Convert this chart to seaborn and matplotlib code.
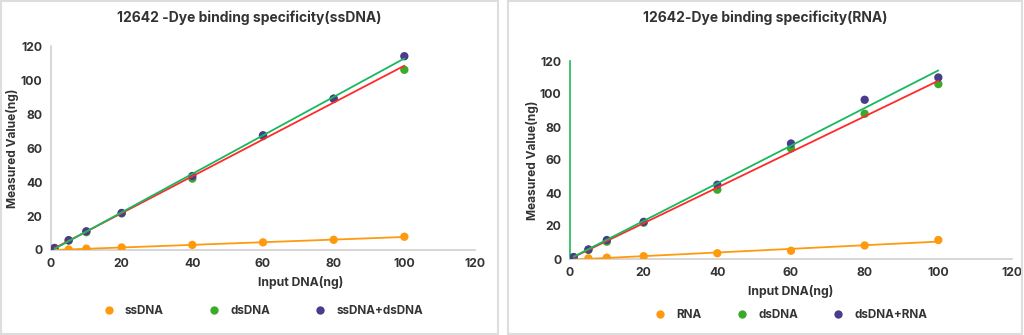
import matplotlib
matplotlib.use("Agg")
import matplotlib.pyplot as plt
import seaborn as sns
import pandas as pd
import numpy as np
from matplotlib.patches import Rectangle

sns.set_theme(style="white")
plt.rcParams['font.family'] = ['Inter', 'DejaVu Sans']

input_ng = [1, 5, 10, 20, 40, 60, 80, 100]

# Left panel
left_title = "12642 -Dye binding specificity(ssDNA)"
left_names = ["ssDNA", "dsDNA", "ssDNA+dsDNA"]
left_ss = [0.0, 0.3, 0.8, 1.5, 3.0, 4.5, 6.0, 7.8]
left_ds = [1.0, 5.5, 10.5, 21.5, 42.0, 67.0, 89.0, 106.0]
left_mix = [1.2, 5.8, 11.0, 21.8, 43.5, 67.5, 89.0, 114.0]

# Right panel
right_title = "12642-Dye binding specificity(RNA)"
right_names = ["RNA", "dsDNA", "dsDNA+RNA"]
right_rna = [0.0, 0.4, 0.8, 1.7, 3.5, 5.0, 8.2, 11.5]
right_ds = [1.0, 5.5, 10.5, 22.0, 42.0, 67.0, 88.0, 106.0]
right_mix = [1.2, 5.8, 11.5, 22.5, 45.0, 70.0, 96.5, 110.0]

x_ticks = [0, 20, 40, 60, 80, 100, 120]
y_ticks = [0, 20, 40, 60, 80, 100, 120]

pt_colors = ["#FF9A0E", "#3BAA2B", "#4A3C8C"]
line_colors = ["#FF9A0E", "#FF2A2A", "#18B860"]
txt = "#333333"

fig = plt.figure(figsize=(10.24, 3.35), dpi=100)
W, H = 1024, 335

# panel borders
for (x0, x1) in [(1, 498), (508, 1022)]:
    fig.patches.append(Rectangle((x0 / W, 1 / H), (x1 - x0) / W, (H - 2) / H,
                                 transform=fig.transFigure, fill=False,
                                 edgecolor="#DDDDDD", linewidth=1.5))


def panel(rect, names, series, left_spine_color, legend_y, xlab_x, xlab_y, ylab_x, colspace):
    ax = fig.add_axes(rect)
    df = pd.DataFrame({
        "x": input_ng * 3,
        "y": series[0] + series[1] + series[2],
        "s": [names[0]] * 8 + [names[1]] * 8 + [names[2]] * 8,
    })
    sns.scatterplot(data=df, x="x", y="y", hue="s", hue_order=names,
                    palette=pt_colors, s=36, edgecolor="none", ax=ax, zorder=3)
    for i in range(3):
        sub = df[df["s"] == names[i]]
        sns.regplot(data=sub, x="x", y="y", scatter=False, ci=None, truncate=True,
                    line_kws={"color": line_colors[i], "lw": 1.3, "zorder": 4}, ax=ax)
    ax.set_xlim(0, 120)
    ax.set_ylim(0, 120)
    ax.set_xticks(x_ticks)
    ax.set_yticks(y_ticks)
    ax.tick_params(axis="both", labelsize=8.8, colors=txt, length=0, pad=6)
    ax.tick_params(axis="y", length=3, color="#CCCCCC", width=1, pad=3)
    for lab in ax.get_xticklabels() + ax.get_yticklabels():
        lab.set_fontweight("bold")
    ax.set_xlabel("Input DNA(ng)", fontsize=8.8, fontweight="bold", color=txt)
    ax.set_ylabel("Measured Value(ng)", fontsize=8.6, fontweight="bold", color=txt)
    ax.xaxis.set_label_coords(xlab_x, xlab_y)
    ax.yaxis.set_label_coords(ylab_x, 0.5)
    for s in ["top", "right"]:
        ax.spines[s].set_visible(False)
    ax.spines["bottom"].set_color("#D0D0D0")
    ax.spines["bottom"].set_linewidth(1.2)
    ax.spines["left"].set_color(left_spine_color)
    ax.spines["left"].set_linewidth(1.2)
    ax.set_facecolor("white")
    leg = ax.legend(loc="center", bbox_to_anchor=(0.5, legend_y), ncol=3, frameon=False,
                    fontsize=8.4, columnspacing=colspace, handlelength=1.0,
                    handletextpad=0.89, markerscale=1.0)
    for t in leg.get_texts():
        t.set_fontweight("bold")
        t.set_color(txt)
    return ax


# left axes: x 51..475 px, y 46..250 px
axL = panel([51 / W, 1 - 250 / H, 424 / W, 204 / H], left_names,
            [left_ss, left_ds, left_mix], "#D0D0D0", -0.30,
            (301 - 51) / 424, -(276 - 250) / 204, (19 - 51) / 424, 3.8)
# right axes: x 570..1012 px, y 61..259 px
axR = panel([570 / W, 1 - 259 / H, 442 / W, 198 / H], right_names,
            [right_rna, right_ds, right_mix], "#1DB954", -0.283,
            0.5, -(285 - 259) / 198, (539 - 570) / 442, 2.95)

fig.text(249 / W, 1 - 18 / H, left_title, ha="center", va="center",
         fontsize=10, fontweight="bold", color=txt)
fig.text(765 / W, 1 - 18 / H, right_title, ha="center", va="center",
         fontsize=10, fontweight="bold", color=txt)

fig.savefig("out.png", dpi=100, facecolor="white")
